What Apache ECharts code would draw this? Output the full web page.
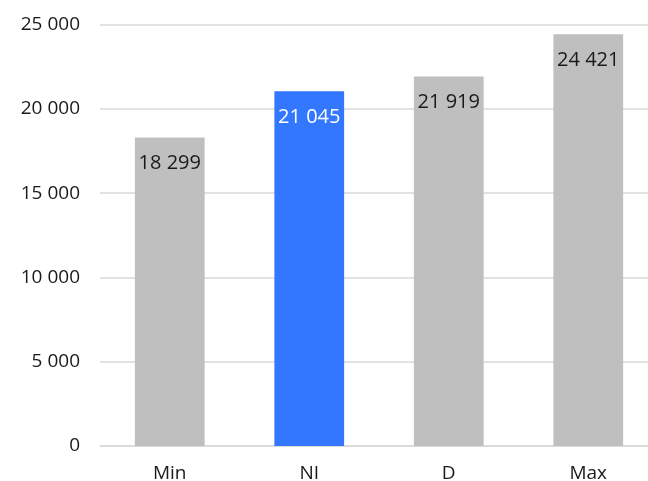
<!DOCTYPE html>
<html>
<head>
<meta charset="utf-8">
<script src="https://cdn.jsdelivr.net/npm/echarts@6/dist/echarts.min.js"></script>
<style>
  html, body { margin: 0; padding: 0; background: #fff; }
  #chart { width: 648px; height: 481px; }
</style>
</head>
<body>
<div id="chart"></div>
<script>
const categories = ['Min', 'NI', 'D', 'Max'];
const values = [18299, 21045, 21919, 24421];
const highlighted = 'NI';
const yTicks = { min: 0, max: 25000, interval: 5000 };

const fmt = v => String(v).replace(/\B(?=(\d{3})+(?!\d))/g, ' ');
const FONT = '"Open Sans", "Noto Sans", sans-serif';

const chart = echarts.init(document.getElementById('chart'), null, { renderer: 'canvas' });
chart.setOption({
  animation: false,
  backgroundColor: '#ffffff',
  // plot area runs slightly past the right edge of the canvas
  grid: { left: 100, width: 558, top: 24.5, bottom: 35, containLabel: false, outerBoundsMode: 'none' },
  xAxis: {
    type: 'category',
    data: categories,
    axisTick: { show: false },
    axisLine: { show: true, lineStyle: { color: '#d9d9d9', width: 1.5 } },
    axisLabel: { color: '#1a1a1a', fontSize: 19, fontFamily: FONT, margin: 18 }
  },
  yAxis: {
    type: 'value',
    min: yTicks.min, max: yTicks.max, interval: yTicks.interval,
    axisLine: { show: false },
    axisTick: { show: false },
    splitLine: { lineStyle: { color: '#d9d9d9', width: 1.5 } },
    axisLabel: { color: '#1a1a1a', fontSize: 19, fontFamily: FONT, margin: 20, formatter: fmt }
  },
  series: [{
    type: 'bar',
    barWidth: '50%',
    data: values.map((v, i) => ({
      value: v,
      itemStyle: { color: categories[i] === highlighted ? '#3377ff' : '#bfbfbf' },
      label: { color: categories[i] === highlighted ? '#ffffff' : '#1a1a1a' }
    })),
    label: {
      show: true,
      position: 'insideTop',
      distance: 16,
      fontSize: 20,
      fontFamily: FONT,
      formatter: p => fmt(p.value)
    }
  }]
});
</script>
</body>
</html>
